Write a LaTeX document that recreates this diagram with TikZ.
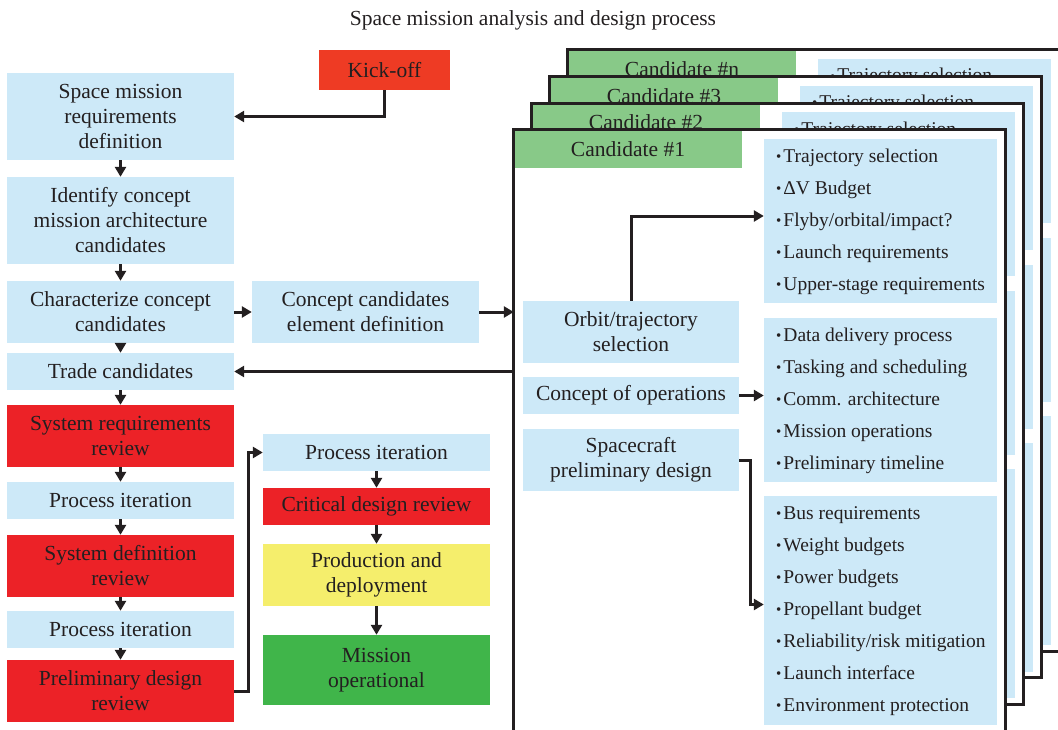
\documentclass[tikz,border=0pt]{standalone}
\usepackage{fontspec}
\setmainfont{Liberation Serif}
\usetikzlibrary{arrows.meta,calc}
\definecolor{lblue}{RGB}{205,233,248}
\definecolor{rrev}{RGB}{236,34,39}
\definecolor{kick}{RGB}{238,59,36}
\definecolor{yprod}{RGB}{245,238,108}
\definecolor{gop}{RGB}{64,181,74}
\definecolor{gcand}{RGB}{136,201,136}
\definecolor{ink}{RGB}{35,31,32}
\newcommand{\itm}{{\fontsize{15}{15}\selectfont\raisebox{0.8pt}{•}}\hspace{2pt}}
\begin{document}
\begin{tikzpicture}[x=1pt,y=-1pt,
  every node/.style={text=ink, font=\fontsize{21.5}{25}\selectfont, inner sep=0pt, align=center},
  lbox/.style={fill=lblue, minimum width=227, minimum height=#1},
  rbox/.style={fill=rrev, minimum width=227, minimum height=#1},
  ybox/.style={fill=yprod, minimum width=227, minimum height=#1},
  gbox/.style={fill=gop, minimum width=227, minimum height=#1},
  ibox/.style={fill=lblue, minimum width=216, minimum height=#1},
  listbox/.style={fill=lblue, minimum width=233, minimum height=#1},
  candhead/.style={fill=gcand, minimum width=228, minimum height=38},
  sheet/.style={fill=white, minimum width=491, minimum height=601},
  sheetline/.style={draw=ink, line width=3.2pt},
  item/.style={anchor=base west, font=\fontsize{19.5}{24}\selectfont, align=left},
  conn/.style={draw=ink, line width=3pt, -{Triangle[length=10pt,width=11pt]}},
]
\useasboundingbox (0,0) rectangle (1058,729);

% title
\node (title) at (533,20) {Space mission analysis and design process};

% stacked candidate sheets behind the first one
\foreach \k/\lab in {3/n,2/3,1/2}{
  \begin{scope}[shift={(18*\k,-26.67*\k)}]
    \node[sheet] (fr\k) at (759.5,430.5) {};
    \node[candhead] (hd\k) at (628,149) {Candidate \#\lab};
    \node[listbox=164] (la\k) at (880.5,221) {};
    \node[listbox=164] (lb\k) at (880.5,400) {};
    \node[listbox=229] (lc\k) at (880.5,610.5) {};
    \node[item] (it\k) at (776,162) {\itm Trajectory selection};
    \draw[sheetline] (fr\k.north west) rectangle (fr\k.south east);
  \end{scope}
}

% front sheet: candidate #1
\node[sheet] (fr0) at (759.5,430.5) {};
\node[candhead] (hd0) at (628,149) {Candidate \#1};
\node[listbox=164] (la0) at (880.5,221) {};
\node[listbox=164] (lb0) at (880.5,400) {};
\node[listbox=229] (lc0) at (880.5,610.5) {};
\foreach \t [count=\i] in {Trajectory selection, ΔV Budget, Flyby/orbital/impact?, Launch requirements, Upper-stage requirements}
  \node[item] (ia\i) at (776,162+32*\i-32) {\itm \t};
\foreach \t [count=\i] in {Data delivery process, Tasking and scheduling, Comm. architecture, Mission operations, Preliminary timeline}
  \node[item] (ib\i) at (776,341+32*\i-32) {\itm \t};
\foreach \t [count=\i] in {Bus requirements, Weight budgets, Power budgets, Propellant budget, Reliability/risk mitigation, Launch interface, Environment protection}
  \node[item] (ic\i) at (776,519+32*\i-32) {\itm \t};

\node[ibox=62] (orbit) at (631,332) {Orbit/trajectory\\selection};
\node[ibox=37] (conops) at (631,395.5) {Concept of operations};
\node[ibox=62] (scpd) at (631,460) {Spacecraft\\preliminary design};

\draw[conn] (orbit.north) |- ([yshift=5pt]la0.west);
\draw[conn] (conops.east) -- (conops.east -| lb0.west);
\draw[conn] (scpd.east) -- ++(11,0) |- ([yshift=6pt]lc0.west);
\draw[sheetline] (fr0.north west) rectangle (fr0.south east);

% kick-off and main column
\node[fill=kick, minimum width=131, minimum height=40] (kick) at (384.5,70) {Kick-off};
\node[lbox=87] (smr) at (120.5,116.5) {Space mission\\requirements\\definition};
\node[lbox=87] (ident) at (120.5,220.5) {Identify concept\\mission architecture\\candidates};
\node[lbox=62] (charz) at (120.5,312) {Characterize concept\\candidates};
\node[lbox=37] (trade) at (120.5,371.5) {Trade candidates};
\node[rbox=62] (srr) at (120.5,436) {System requirements\\review};
\node[lbox=37] (pi1) at (120.5,500.5) {Process iteration};
\node[rbox=62] (sdr) at (120.5,566) {System definition\\review};
\node[lbox=37] (pi2) at (120.5,629.5) {Process iteration};
\node[rbox=62] (pdr) at (120.5,691) {Preliminary design\\review};

\node[lbox=62] (ccd) at (365.5,312) {Concept candidates\\element definition};

\node[lbox=37] (pi3) at (376.5,452.5) {Process iteration};
\node[rbox=37] (cdr) at (376.5,506.5) {Critical design review};
\node[ybox=62] (prod) at (376.5,575) {Production and\\deployment};
\node[gbox=70] (mop) at (376.5,670) {Mission\\operational};

% connectors
\draw[conn] (kick.south) |- (smr.east);
\draw[conn] (smr) -- (ident);
\draw[conn] (ident) -- (charz);
\draw[conn] (charz) -- (trade);
\draw[conn] (trade) -- (srr);
\draw[conn] (srr) -- (pi1);
\draw[conn] (pi1) -- (sdr);
\draw[conn] (sdr) -- (pi2);
\draw[conn] (pi2) -- (pdr);
\draw[conn] (charz) -- (ccd);
\draw[conn] (ccd.east) -- (ccd.east -| fr0.west);
\draw[conn] (fr0.west |- trade.east) -- (trade.east);
\draw[conn] (pdr.east) -- ++(14,0) |- (pi3.west);
\draw[conn] (pi3) -- (cdr);
\draw[conn] (cdr) -- (prod);
\draw[conn] (prod) -- (mop);
\end{tikzpicture}
\end{document}
